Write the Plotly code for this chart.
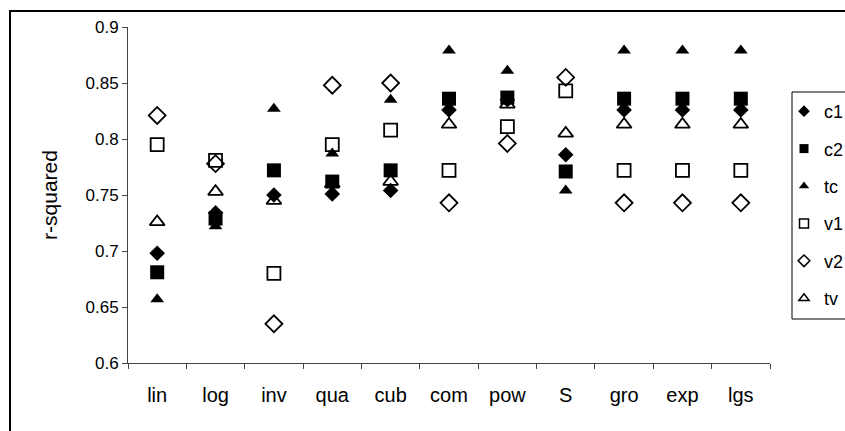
import plotly.graph_objects as go

categories = ["lin", "log", "inv", "qua", "cub", "com", "pow", "S", "gro", "exp", "lgs"]
c1 = [0.698, 0.734, 0.750, 0.751, 0.754, 0.826, 0.835, 0.786, 0.826, 0.826, 0.826]
c2 = [0.681, 0.729, 0.772, 0.762, 0.772, 0.836, 0.837, 0.771, 0.836, 0.836, 0.836]
tc = [0.657, 0.722, 0.827, 0.787, 0.835, 0.879, 0.861, 0.754, 0.879, 0.879, 0.879]
v1 = [0.795, 0.781, 0.680, 0.795, 0.808, 0.772, 0.811, 0.843, 0.772, 0.772, 0.772]
v2 = [0.821, 0.778, 0.635, 0.848, 0.850, 0.743, 0.796, 0.855, 0.743, 0.743, 0.743]
tv = [0.726, 0.753, 0.745, 0.760, 0.762, 0.813, 0.831, 0.805, 0.813, 0.813, 0.813]

series = [
    ("c1", c1, "diamond", 12, True),
    ("c2", c2, "square", 14, True),
    ("tc", tc, "triangle-up", 12, True),
    ("v1", v1, "square-open", 13, False),
    ("v2", v2, "diamond-open", 13, False),
    ("tv", tv, "triangle-up-open", 13, False),
]

fig = go.Figure()
for i, (name, vals, sym, size, filled) in enumerate(series):
    mk = dict(symbol=sym, size=size, color="black")
    if not filled:
        mk["line"] = dict(color="black", width=1.8)
    fig.add_trace(go.Scatter(x=categories, y=vals, mode="markers", name=name,
                             marker=mk, showlegend=False))
    lmk = dict(symbol=sym, size=9, color="black")
    if not filled:
        lmk["line"] = dict(color="black", width=1.5)
    fig.add_trace(go.Scatter(x=[None], y=[None], mode="markers", name=name,
                             marker=lmk, showlegend=True, legendgroup=name))

W, H = 845, 431
L, R, T, B = 128, 75, 27, 68
pw, ph = W - L - R, H - T - B

fig.update_layout(
    width=W, height=H,
    margin=dict(l=L, r=R, t=T, b=B, autoexpand=False),
    paper_bgcolor="white", plot_bgcolor="white",
    font=dict(family="Liberation Sans, Arial, sans-serif", size=17, color="black"),
    showlegend=True,
    legend=dict(x=(784 - L) / pw, xanchor="left", y=1 - (93 - T) / ph, yanchor="top",
                borderwidth=0, bgcolor="rgba(0,0,0,0)",
                font=dict(size=18), traceorder="grouped", tracegroupgap=11,
                itemwidth=30),
    xaxis=dict(type="category", showline=True, linecolor="#444", linewidth=1,
               ticks="outside", ticklen=5, tickcolor="#444", tickson="boundaries",
               showgrid=False, ticklabelstandoff=14, range=[-0.5, 10.5],
               tickfont=dict(size=20)),
    yaxis=dict(range=[0.6, 0.9], showline=True, linecolor="#444", linewidth=1,
               ticks="outside", ticklen=5, tickcolor="#444", dtick=0.05, tick0=0.6,
               showgrid=False, zeroline=False, tickfont=dict(size=17),
               title=dict(text="r-squared", standoff=22, font=dict(size=21))),
    shapes=[
        dict(type="rect", xref="paper", yref="paper",
             x0=(10 - L) / pw, x1=1.5, y0=-0.5, y1=1 + (T - 11) / ph,
             line=dict(color="black", width=2), fillcolor="rgba(0,0,0,0)",
             layer="below"),
        dict(type="rect", xref="paper", yref="paper",
             x0=(792 - L) / pw, x1=1.3, y0=1 - (319 - T) / ph, y1=1 - (92 - T) / ph,
             line=dict(color="black", width=1), fillcolor="white",
             layer="above"),
    ],
)

fig.write_html(
    "out.html",
    config={"displayModeBar": False},
    post_script="document.body.style.margin='0';"
                "document.documentElement.style.overflow='hidden';",
)
